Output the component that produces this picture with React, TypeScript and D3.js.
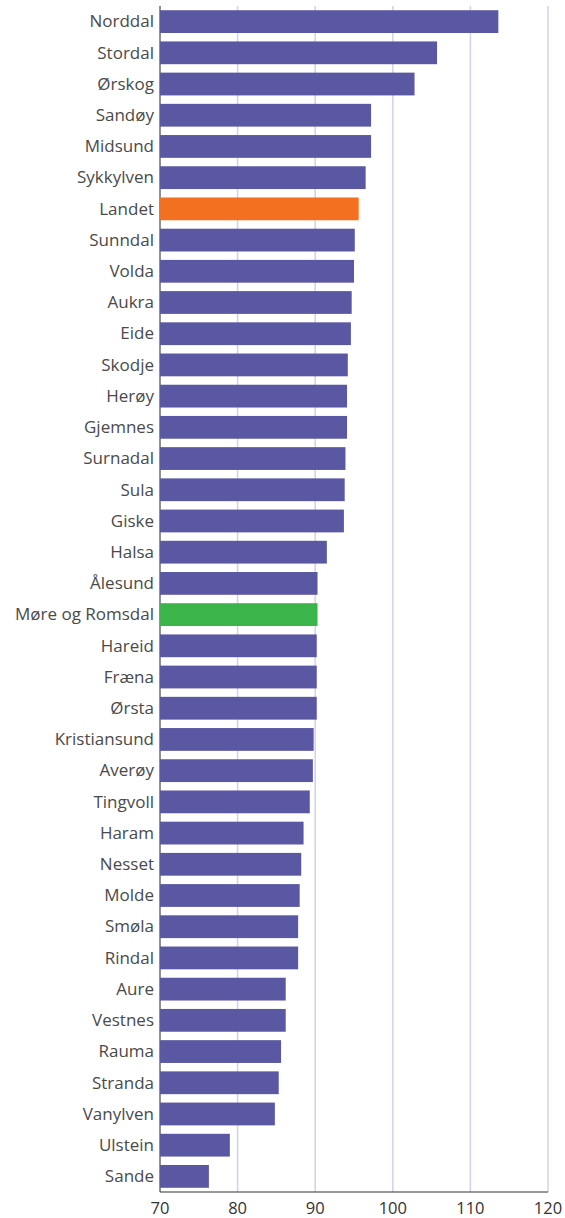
import React from "react";
import * as d3 from "d3";

const categories = [
  "Norddal", "Stordal", "Ørskog", "Sandøy", "Midsund", "Sykkylven", "Landet",
  "Sunndal", "Volda", "Aukra", "Eide", "Skodje", "Herøy", "Gjemnes", "Surnadal",
  "Sula", "Giske", "Halsa", "Ålesund", "Møre og Romsdal", "Hareid", "Fræna",
  "Ørsta", "Kristiansund", "Averøy", "Tingvoll", "Haram", "Nesset", "Molde",
  "Smøla", "Rindal", "Aure", "Vestnes", "Rauma", "Stranda", "Vanylven",
  "Ulstein", "Sande",
];

const values = [
  113.6, 105.7, 102.8, 97.2, 97.2, 96.5, 95.6,
  95.1, 95.0, 94.7, 94.6, 94.2, 94.1, 94.1, 93.9,
  93.8, 93.7, 91.5, 90.3, 90.3, 90.2, 90.2,
  90.2, 89.8, 89.7, 89.3, 88.5, 88.2, 88.0,
  87.8, 87.8, 86.2, 86.2, 85.6, 85.3, 84.8,
  79.0, 76.3,
];

const xTicks = [70, 80, 90, 100, 110, 120];

const highlightNation = "Landet";
const highlightCounty = "Møre og Romsdal";

const W = 565;
const H = 1218;
const margin = { left: 160, right: 17, top: 6, bottom: 26 };

const FONT = "'Open Sans', sans-serif";

export default function App() {
  const x = d3.scaleLinear().domain([70, 120]).range([margin.left, W - margin.right]);
  const y = d3
    .scaleBand<string>()
    .domain(categories)
    .range([margin.top, H - margin.bottom])
    .paddingInner(0.27)
    .paddingOuter(0.135);

  const color = (c: string) =>
    c === highlightNation ? "#f37021" : c === highlightCounty ? "#3bb54a" : "#5a57a3";

  const axisY = H - margin.bottom;

  return (
    <div style={{ position: "absolute", left: 0, top: 0 }}>
      <svg width={W} height={H} style={{ display: "block" }}>
        <rect width={W} height={H} fill="#ffffff" />
        {xTicks.slice(1).map((t) => (
          <line
            key={"g" + t}
            x1={x(t)}
            x2={x(t)}
            y1={margin.top}
            y2={axisY}
            stroke="#d3d0e8"
            strokeWidth={1.5}
          />
        ))}
        <line x1={x(70)} x2={x(70)} y1={margin.top} y2={axisY} stroke="#222" strokeWidth={1} />
        {categories.map((c, i) => (
          <rect
            key={c}
            x={x(70)}
            y={y(c)}
            width={x(values[i]) - x(70)}
            height={y.bandwidth()}
            fill={color(c)}
          />
        ))}
        {categories.map((c) => (
          <text
            key={"l" + c}
            x={x(70) - 6}
            y={(y(c) as number) + y.bandwidth() / 2}
            dy="0.34em"
            textAnchor="end"
            fontFamily={FONT}
            fontSize={17}
            fill="#4a4a4a"
          >
            {c}
          </text>
        ))}
        <line x1={x(70)} x2={x(120)} y1={axisY} y2={axisY} stroke="#333" strokeWidth={1.2} />
        {xTicks.map((t) => (
          <text
            key={"t" + t}
            x={x(t)}
            y={axisY + 22}
            textAnchor="middle"
            fontFamily={FONT}
            fontSize={16.5}
            fill="#333"
          >
            {t}
          </text>
        ))}
      </svg>
    </div>
  );
}
